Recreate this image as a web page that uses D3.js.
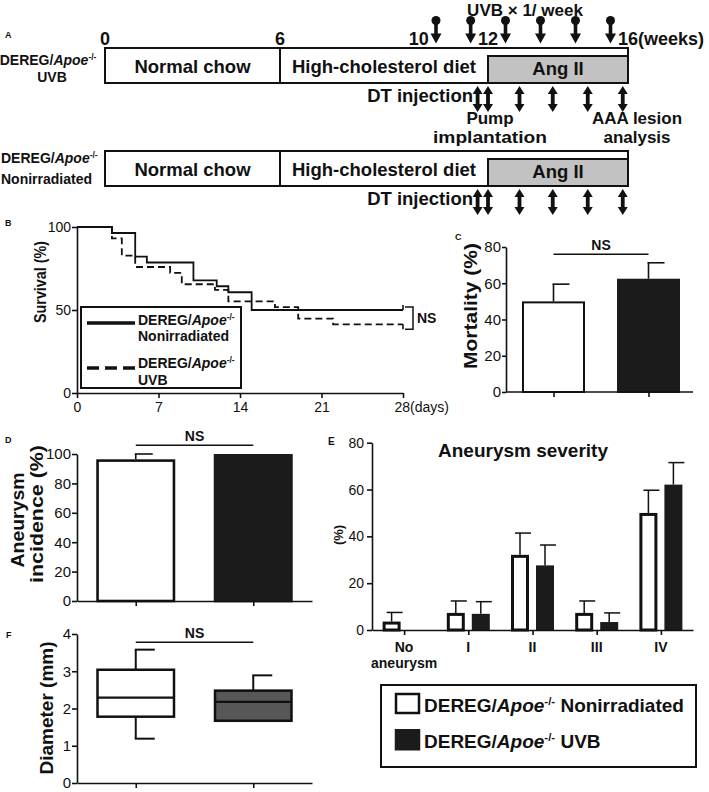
<!DOCTYPE html>
<html><head><meta charset="utf-8">
<script src="https://cdn.jsdelivr.net/npm/d3@7"></script>
<style>
body{margin:0;background:#fff}
svg{display:block;font-family:"Liberation Sans",Arial,Helvetica,sans-serif}
</style></head><body>
<svg id="fig" width="709" height="792"></svg>
<script>
// ================= DATA =================
// Panel A – protocol timeline
const weekTicks = [0, 6, 10, 12, 16];
const weekTickLabels = ["0", "6", "10", "12", "16(weeks)"];
const phaseLabels = ["Normal chow", "High-cholesterol diet"];
const phaseStart = [0, 6];
const phaseEnd = [6, 16];
const angIIPeriod = [12, 16];
const uvbWeeks = [10.5, 11.5, 12.5, 13.5, 14.5, 15.5];
const dtWeeks = [11.7, 12, 12.9, 13.85, 14.85, 15.85];
const rowGroups = ["UVB", "Nonirradiated"];

// Panel B – survival (Kaplan–Meier)
const survTicksX = [0, 7, 14, 21, 28];
const survTickLabelsX = ["0", "7", "14", "21", "28(days)"];
const survTicksY = [0, 50, 100];
const nonIrrDays = [0, 3, 5, 6, 10, 12, 13, 15, 28];
const nonIrrSurv = [100, 96.4, 82.1, 78.6, 67.9, 64.3, 60.7, 50, 50];
const uvbDays = [0, 3, 3.85, 5, 8, 9, 11.85, 13, 17, 19, 22, 28];
const uvbSurv = [100, 93.1, 82.8, 75.9, 72.4, 65.5, 62.1, 55.2, 51.7, 44.8, 41.4, 41.4];

// Panel C – mortality
const groups = ["Nonirradiated", "UVB"];
const mortalityMean = [50, 62.5];
const mortalityErr = [9.5, 8.8];
const mortalityTicks = [0, 20, 40, 60, 80];

// Panel D – aneurysm incidence
const incidenceMean = [96.4, 100];
const incidenceErr = [3.6, 0];
const incidenceTicks = [0, 20, 40, 60, 80, 100];

// Panel E – aneurysm severity
const severityCats = ["No aneurysm", "I", "II", "III", "IV"];
const severityNonIrr = [3.6, 7.3, 32.1, 7.3, 50];
const severityNonIrrErr = [3.9, 5.1, 9.3, 5.1, 9.7];
const severityUVB = [0, 6.9, 27.6, 3.4, 62.1];
const severityUVBErr = [0, 5.2, 8.7, 3.9, 9.4];
const severityTicks = [0, 20, 40, 60, 80];

// Panel F – diameter box plots [min, q1, median, q3, max]
const diameterNonIrr = [1.19, 1.78, 2.29, 3.04, 3.58];
const diameterUVB = [1.67, 1.67, 2.18, 2.48, 2.89];
const diameterTicks = [0, 1, 2, 3, 4];

// ================= DRAWING =================
const FONT = '"Liberation Sans", Arial, Helvetica, sans-serif';
const svg = d3.select('#fig');
const BLACK = '#111';
const DARK = '#1b1b1b';
const fmtInt = d3.format('d');

function txt(g, x, y, s, fs, opts = {}) {
  const t = g.append('text').attr('x', x).attr('y', y)
    .attr('font-size', fs).attr('font-weight', opts.weight || 'bold')
    .attr('text-anchor', opts.anchor || 'start').attr('fill', BLACK).text(s);
  if (opts.rotate) t.attr('transform', `rotate(-90,${x},${y})`);
  if (opts.len) t.attr('textLength', opts.len).attr('lengthAdjust', 'spacingAndGlyphs');
  return t;
}
// "DEREG/Apoe-/-" + suffix with italics & superscript
function geneText(g, x, y, fs, anchor, suffix) {
  const t = g.append('text').attr('x', x).attr('y', y).attr('font-size', fs)
    .attr('font-weight', 'bold').attr('text-anchor', anchor).attr('fill', BLACK);
  t.append('tspan').text('DEREG/');
  t.append('tspan').attr('font-style', 'italic').text('Apoe');
  const sh = fs * 0.38;
  t.append('tspan').attr('font-size', fs * 0.6).attr('dy', -sh).text('-/-');
  if (suffix) t.append('tspan').attr('dy', sh).text(suffix);
  return t;
}
function styleAxis(g, fs) {
  g.attr('font-size', fs).attr('font-family', FONT);
  g.select('.domain').attr('stroke', BLACK).attr('stroke-width', 1.6);
  g.selectAll('.tick line').attr('stroke', BLACK).attr('stroke-width', 1.6);
  g.selectAll('.tick text').attr('fill', BLACK);
}

// ---------- Panel A ----------
(function panelA() {
  const g = svg.append('g');
  const tx = d3.scaleLinear().domain([0, 6, 12, 16]).range([105, 280, 488, 628]);
  txt(g, 5, 38, 'A', 9);
  txt(g, 525, 15.5, 'UVB \u00d7 1/ week', 17, {anchor: 'middle'});
  weekTicks.forEach((w, i) => {
    const last = i === weekTicks.length - 1;
    txt(g, last ? tx(w) - 10 : tx(w), 45, weekTickLabels[i], 18, {anchor: last ? 'start' : 'middle'});
  });
  // UVB lollipop arrows
  uvbWeeks.forEach(w => {
    const x = tx(w);
    g.append('circle').attr('cx', x).attr('cy', 20.5).attr('r', 4.5).attr('fill', BLACK);
    g.append('path').attr('fill', BLACK)
      .attr('d', `M${x-1.8},20H${x+1.8}V33.5H${x+5.5}L${x},43.5L${x-5.5},33.5H${x-1.8}Z`);
  });
  const rowTops = [48, 151];
  const rowH = 35;
  function dblArrow(x, y1, y2) {
    const hw = 5, sw = 1.9, hh = 8;
    return `M${x},${y1}L${x+hw},${y1+hh}L${x+sw},${y1+hh}L${x+sw},${y2-hh}L${x+hw},${y2-hh}L${x},${y2}` +
      `L${x-hw},${y2-hh}L${x-sw},${y2-hh}L${x-sw},${y1+hh}L${x-hw},${y1+hh}Z`;
  }
  rowTops.forEach((top, r) => {
    g.append('rect').attr('x', tx(0)).attr('y', top).attr('width', tx(16) - tx(0)).attr('height', rowH)
      .attr('fill', '#fff').attr('stroke', BLACK).attr('stroke-width', 2);
    phaseStart.forEach((s, i) => {
      if (i > 0) g.append('line').attr('x1', tx(s)).attr('x2', tx(s)).attr('y1', top).attr('y2', top + rowH)
        .attr('stroke', BLACK).attr('stroke-width', 2);
      const e = Math.min(phaseEnd[i], angIIPeriod[0]);
      txt(g, (tx(s) + tx(e)) / 2, top + 25, phaseLabels[i], 18.5, {anchor: 'middle'});
    });
    g.append('rect').attr('x', tx(angIIPeriod[0])).attr('y', top + 8)
      .attr('width', tx(angIIPeriod[1]) - tx(angIIPeriod[0])).attr('height', rowH - 8)
      .attr('fill', '#c2c2c2').attr('stroke', BLACK).attr('stroke-width', 2);
    txt(g, (tx(angIIPeriod[0]) + tx(angIIPeriod[1])) / 2, top + 27, 'Ang II', 18.5, {anchor: 'middle'});
    dtWeeks.forEach(w => {
      g.append('path').attr('d', dblArrow(tx(w), top + 38, top + 64)).attr('fill', BLACK);
    });
    txt(g, 473, top + 54, 'DT injection', 18.5, {anchor: 'end'});
  });
  geneText(g, 48, 65, 14, 'middle');
  txt(g, 52, 82, rowGroups[0], 14, {anchor: 'middle'});
  geneText(g, 1, 163, 14, 'start');
  txt(g, 1, 184, rowGroups[1], 14);
  txt(g, 490, 124, 'Pump', 17, {anchor: 'middle'});
  txt(g, 490, 143, 'implantation', 17, {anchor: 'middle', len: 114});
  txt(g, 637, 124, 'AAA lesion', 17, {anchor: 'middle'});
  txt(g, 637, 143, 'analysis', 17, {anchor: 'middle'});
})();

// ---------- Panel B ----------
(function panelB() {
  const g = svg.append('g');
  const x = d3.scaleLinear().domain([0, 28]).range([77, 403]);
  const y = d3.scaleLinear().domain([0, 100]).range([393, 227]);
  txt(g, 5, 226, 'B', 9);
  const ax = g.append('g').attr('transform', 'translate(0,393)')
    .call(d3.axisBottom(x).tickValues(survTicksX).tickFormat((d, i) => survTickLabelsX[i]).tickSize(5).tickPadding(4).tickSizeOuter(0));
  styleAxis(ax, 14);
  ax.selectAll('.tick text').filter((d, i) => i === survTicksX.length - 1).attr('text-anchor', 'start').attr('dx', -9);
  const ay = g.append('g').attr('transform', 'translate(77,0)')
    .call(d3.axisLeft(y).tickValues(survTicksY).tickFormat(fmtInt).tickSize(5).tickPadding(1).tickSizeOuter(0));
  styleAxis(ay, 14);
  txt(g, 46, 282, 'Survival (%)', 17, {anchor: 'middle', rotate: true, len: 82});
  const line = d3.line().x(d => x(d[0])).y(d => y(d[1])).curve(d3.curveStepAfter);
  g.append('path').attr('d', line(d3.zip(uvbDays, uvbSurv))).attr('fill', 'none')
    .attr('stroke', BLACK).attr('stroke-width', 1.8).attr('stroke-dasharray', '7,4');
  g.append('path').attr('d', line(d3.zip(nonIrrDays, nonIrrSurv))).attr('fill', 'none')
    .attr('stroke', BLACK).attr('stroke-width', 1.8);
  // censor marks
  const endN = nonIrrSurv[nonIrrSurv.length - 1], endU = uvbSurv[uvbSurv.length - 1];
  g.append('line').attr('x1', x(28)).attr('x2', x(28)).attr('y1', y(endN)).attr('y2', y(endN) - 5).attr('stroke', BLACK).attr('stroke-width', 1.6);
  g.append('line').attr('x1', x(28)).attr('x2', x(28)).attr('y1', y(endU)).attr('y2', y(endU) + 5).attr('stroke', BLACK).attr('stroke-width', 1.6);
  // NS bracket
  const bt = y(endN) - 3, bb = y(endU) + 5;
  g.append('path').attr('d', `M${x(28)+2},${bt}H${x(28)+10}V${bb}H${x(28)+2}`).attr('fill', 'none').attr('stroke', BLACK).attr('stroke-width', 1.5);
  txt(g, x(28) + 14, (bt + bb) / 2 + 5, 'NS', 14);
  // legend
  g.append('rect').attr('x', 81).attr('y', 307).attr('width', 160).attr('height', 81)
    .attr('fill', '#fff').attr('stroke', BLACK).attr('stroke-width', 2);
  g.append('line').attr('x1', 87).attr('x2', 135).attr('y1', 323).attr('y2', 323).attr('stroke', BLACK).attr('stroke-width', 3.5);
  g.append('line').attr('x1', 87).attr('x2', 137).attr('y1', 368).attr('y2', 368).attr('stroke', BLACK).attr('stroke-width', 3.5).attr('stroke-dasharray', '12,6');
  geneText(g, 138, 325, 14, 'start');
  txt(g, 138, 341, 'Nonirradiated', 14);
  geneText(g, 138, 368, 14, 'start');
  txt(g, 138, 385, 'UVB', 14);
})();

// ---------- bar helper ----------
function barPanel(g, xs, ys, means, errs, bw, capR, strokeW) {
  means.forEach((m, i) => {
    const c = xs(groups[i]);
    const white = i === 0;
    g.append('rect').attr('x', c - bw / 2 + strokeW / 2).attr('y', ys(m) + strokeW / 2)
      .attr('width', bw - strokeW).attr('height', ys(0) - ys(m) - strokeW / 2)
      .attr('fill', white ? '#fff' : DARK).attr('stroke', white ? BLACK : DARK).attr('stroke-width', strokeW);
    if (errs[i] > 0) {
      g.append('line').attr('x1', c).attr('x2', c).attr('y1', ys(m)).attr('y2', ys(m + errs[i])).attr('stroke', BLACK).attr('stroke-width', 1.6);
      g.append('line').attr('x1', c - 1).attr('x2', c + capR).attr('y1', ys(m + errs[i])).attr('y2', ys(m + errs[i])).attr('stroke', BLACK).attr('stroke-width', 1.6);
    }
  });
}
function nsBar(g, x1, x2, yy, fs) {
  g.append('line').attr('x1', x1).attr('x2', x2).attr('y1', yy).attr('y2', yy).attr('stroke', BLACK).attr('stroke-width', 1.6);
  txt(g, (x1 + x2) / 2, yy - 4, 'NS', fs, {anchor: 'middle'});
}

// ---------- Panel C ----------
(function panelC() {
  const g = svg.append('g');
  const x = d3.scalePoint().domain(groups).range([506, 696]).padding(0.5);
  const y = d3.scaleLinear().domain([0, 80]).range([392, 247]);
  txt(g, 455, 240, 'C', 9);
  barPanel(g, x, y, mortalityMean, mortalityErr, 63, 16, 2);
  const ax = g.append('g').attr('transform', 'translate(0,392)')
    .call(d3.axisBottom(x).tickFormat('').tickSize(5).tickSizeOuter(0));
  styleAxis(ax, 14);
  ax.select('.domain').attr('d', 'M506,0H693');
  const ay = g.append('g').attr('transform', 'translate(506,0)')
    .call(d3.axisLeft(y).tickValues(mortalityTicks).tickFormat(fmtInt).tickSize(4).tickPadding(1).tickSizeOuter(0));
  styleAxis(ay, 15);
  txt(g, 477, 306, 'Mortality (%)', 18, {anchor: 'middle', rotate: true, len: 126});
  nsBar(g, x(groups[0]), x(groups[1]), y(76), 14);
})();

// ---------- Panel D ----------
(function panelD() {
  const g = svg.append('g');
  const x = d3.scalePoint().domain(groups).range([77, 312]).padding(0.5);
  const y = d3.scaleLinear().domain([0, 100]).range([601, 454]);
  txt(g, 5, 443, 'D', 9);
  barPanel(g, x, y, incidenceMean, incidenceErr, 79, 17, 2.6);
  const ax = g.append('g').attr('transform', 'translate(0,601)')
    .call(d3.axisBottom(x).tickFormat('').tickSize(5).tickSizeOuter(0));
  styleAxis(ax, 14);
  const ay = g.append('g').attr('transform', 'translate(77,0)')
    .call(d3.axisLeft(y).tickValues(incidenceTicks).tickFormat(fmtInt).tickSize(5).tickPadding(1).tickSizeOuter(0));
  styleAxis(ay, 15);
  txt(g, 24, 520, 'Aneurysm', 19, {anchor: 'middle', rotate: true, len: 95});
  txt(g, 43, 514, 'incidence (%)', 19, {anchor: 'middle', rotate: true, len: 138});
  nsBar(g, x(groups[0]), x(groups[1]), y(106), 14);
})();

// ---------- Panel E ----------
(function panelE() {
  const g = svg.append('g');
  const x = d3.scalePoint().domain(severityCats).range([372, 693]).padding(0.5);
  const y = d3.scaleLinear().domain([0, 80]).range([630, 442.7]);
  txt(g, 328, 445, 'E', 10);
  txt(g, 523, 457, 'Aneurysm severity', 18.5, {anchor: 'middle', len: 170});
  const bw = 18, gap = 3.5, sw = 3;
  severityCats.forEach((c, i) => {
    const cx = x(c);
    // white bar (Nonirradiated)
    const wm = severityNonIrr[i];
    const wx0 = cx - gap - bw;
    g.append('rect').attr('x', wx0 + sw / 2).attr('y', y(wm) + sw / 2).attr('width', bw - sw)
      .attr('height', Math.max(0, y(0) - y(wm) - sw / 2)).attr('fill', '#fff').attr('stroke', BLACK).attr('stroke-width', sw);
    // black bar (UVB)
    const bm = severityUVB[i];
    const bx0 = cx + gap;
    if (bm > 0) g.append('rect').attr('x', bx0).attr('y', y(bm)).attr('width', bw).attr('height', y(0) - y(bm)).attr('fill', DARK);
    [[wx0 + bw / 2, wm, severityNonIrrErr[i]], [bx0 + bw / 2, bm, severityUVBErr[i]]].forEach(([ex, m, e]) => {
      if (e <= 0) return;
      g.append('line').attr('x1', ex).attr('x2', ex).attr('y1', y(m)).attr('y2', y(m + e)).attr('stroke', BLACK).attr('stroke-width', 1.5);
      g.append('line').attr('x1', ex - 5).attr('x2', ex + 11).attr('y1', y(m + e)).attr('y2', y(m + e)).attr('stroke', BLACK).attr('stroke-width', 1.5);
    });
  });
  const ax = g.append('g').attr('transform', 'translate(0,630)')
    .call(d3.axisBottom(x).tickFormat('').tickSize(5).tickSizeOuter(0));
  styleAxis(ax, 14);
  const ay = g.append('g').attr('transform', 'translate(372,0)')
    .call(d3.axisLeft(y).tickValues(severityTicks).tickFormat(fmtInt).tickSize(5).tickPadding(3).tickSizeOuter(0));
  styleAxis(ay, 14);
  // category labels
  severityCats.forEach(c => {
    const parts = c.split(' ');
    parts.forEach((p, j) => txt(g, x(c), 652 + j * 16, p, 14, {anchor: 'middle'}));
  });
  txt(g, 343, 535, '(%)', 13, {anchor: 'middle', rotate: true});
  // legend
  g.append('rect').attr('x', 381).attr('y', 685).attr('width', 315).attr('height', 82)
    .attr('fill', '#fff').attr('stroke', BLACK).attr('stroke-width', 2);
  g.append('rect').attr('x', 396).attr('y', 694).attr('width', 23).attr('height', 19)
    .attr('fill', '#fff').attr('stroke', BLACK).attr('stroke-width', 2.5);
  g.append('rect').attr('x', 394.75).attr('y', 729).attr('width', 25.5).attr('height', 21.5).attr('fill', DARK);
  geneText(g, 424, 712, 19, 'start', ' Nonirradiated');
  geneText(g, 424, 748, 19, 'start', ' UVB');
})();

// ---------- Panel F ----------
(function panelF() {
  const g = svg.append('g');
  const x = d3.scalePoint().domain(groups).range([77, 312]).padding(0.5);
  const y = d3.scaleLinear().domain([0, 4]).range([783, 634]);
  txt(g, 6, 638, 'F', 9);
  const bw = 79;
  [diameterNonIrr, diameterUVB].forEach((d, i) => {
    const c = x(groups[i]);
    const [mn, q1, md, q3, mx] = d;
    g.append('line').attr('x1', c).attr('x2', c).attr('y1', y(q3)).attr('y2', y(mx)).attr('stroke', BLACK).attr('stroke-width', 2);
    g.append('line').attr('x1', c - 1).attr('x2', c + 19).attr('y1', y(mx)).attr('y2', y(mx)).attr('stroke', BLACK).attr('stroke-width', 2);
    if (mn < q1) {
      g.append('line').attr('x1', c).attr('x2', c).attr('y1', y(q1)).attr('y2', y(mn)).attr('stroke', BLACK).attr('stroke-width', 2);
      g.append('line').attr('x1', c - 1).attr('x2', c + 19).attr('y1', y(mn)).attr('y2', y(mn)).attr('stroke', BLACK).attr('stroke-width', 2);
    }
    g.append('rect').attr('x', c - bw / 2 + 1.25).attr('y', y(q3)).attr('width', bw - 2.5).attr('height', y(q1) - y(q3))
      .attr('fill', i === 0 ? '#fff' : '#575757').attr('stroke', BLACK).attr('stroke-width', 2.5);
    g.append('line').attr('x1', c - bw / 2 + 1.25).attr('x2', c + bw / 2 - 1.25).attr('y1', y(md)).attr('y2', y(md)).attr('stroke', BLACK).attr('stroke-width', 2.2);
  });
  const ax = g.append('g').attr('transform', 'translate(0,783)')
    .call(d3.axisBottom(x).tickFormat('').tickSize(5).tickSizeOuter(0));
  styleAxis(ax, 14);
  const ay = g.append('g').attr('transform', 'translate(77,0)')
    .call(d3.axisLeft(y).tickValues(diameterTicks).tickFormat(fmtInt).tickSize(5).tickPadding(1).tickSizeOuter(0));
  styleAxis(ay, 15);
  txt(g, 53, 708, 'Diameter (mm)', 19, {anchor: 'middle', rotate: true, len: 133});
  nsBar(g, x(groups[0]), x(groups[1]), y(3.78), 14);
})();
</script>
</body></html>
